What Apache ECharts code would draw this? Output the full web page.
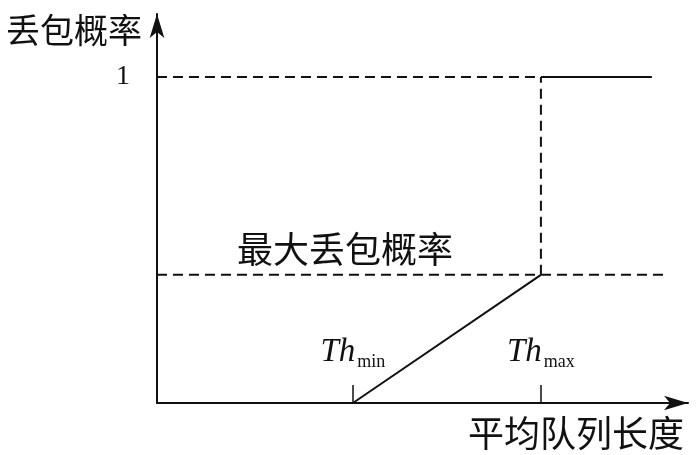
<!DOCTYPE html>
<html>
<head>
<meta charset="utf-8">
<script src="https://cdn.jsdelivr.net/npm/echarts@6/dist/echarts.min.js"></script>
<style>
html, body { margin: 0; padding: 0; background: #fff; }
#chart { width: 700px; height: 455px; }
</style>
</head>
<body>
<div id="chart"></div>
<script>
// 阈值与概率（读图估计，横轴 0-100）
var thMin = 36.9;
var thMax = 72.3;
var xEnd = 93.2;      // 概率为1的实线终点
var dashEnd = 95.7;   // 最大丢包概率虚线终点
var maxP = 0.393;     // 最大丢包概率
var pOne = 1;
var xMax = 100;
var yMax = 1.193;
var labelX = 35.4;    // “最大丢包概率”文字位置

var dropCurve = [[0, 0], [thMin, 0], [thMax, maxP]];
var fullDrop = [[thMax, pOne], [xEnd, pOne]];
var oneGuide = [[0, pOne], [thMax, pOne]];
var thMaxGuide = [[thMax, maxP], [thMax, pOne]];
var maxPGuide = [[0, maxP], [labelX, maxP], [dashEnd, maxP]];

var ink = '#111';
var cjk = '"Noto Sans CJK SC", sans-serif';
var serif = '"Liberation Serif", "DejaVu Serif", serif';
var dash = { color: ink, width: 2, type: [10, 6] };
var solid = { color: ink, width: 2 };

var myChart = echarts.init(document.getElementById('chart'));

var option = {
    animation: false,
    backgroundColor: '#fff',
    grid: { left: 157, right: 12, top: 14, bottom: 52 },
    xAxis: {
        type: 'value',
        min: 0,
        max: xMax,
        name: '平均队列长度',
        nameLocation: 'end',
        nameGap: -4,
        nameMoveOverlap: false,
        nameTextStyle: {
            fontFamily: cjk, fontSize: 36, color: ink,
            align: 'right', verticalAlign: 'top', padding: [12, 0, 0, 0]
        },
        axisLine: { lineStyle: { color: ink, width: 2 }, symbol: ['none', 'arrow'], symbolSize: [11, 24] },
        axisTick: { show: true, inside: true, length: 18, customValues: [thMin, thMax], lineStyle: { color: ink, width: 1.5 } },
        axisLabel: {
            inside: true,
            margin: 32,
            customValues: [thMin, thMax],
            formatter: function (v) {
                return v === thMin ? '{t|Th}{s|min}' : '{t|Th}{s|max}';
            },
            rich: {
                t: { fontFamily: serif, fontStyle: 'italic', fontSize: 33, color: ink, verticalAlign: 'bottom', padding: [0, 0, 2, 0] },
                s: { fontFamily: serif, fontSize: 18, color: ink, verticalAlign: 'bottom', padding: [0, 0, 0, 2] }
            }
        },
        splitLine: { show: false }
    },
    yAxis: {
        type: 'value',
        min: 0,
        max: yMax,
        name: '丢包概率',
        nameLocation: 'end',
        nameGap: -16,
        nameMoveOverlap: false,
        nameTextStyle: {
            fontFamily: cjk, fontSize: 34, color: ink,
            align: 'right', verticalAlign: 'middle', padding: [0, 15, 0, 0]
        },
        axisLine: { show: true, lineStyle: { color: ink, width: 2 }, symbol: ['none', 'arrow'], symbolSize: [11, 24] },
        axisTick: { show: false },
        axisLabel: {
            margin: 27,
            customValues: [pOne],
            fontFamily: serif, fontSize: 28, color: ink
        },
        splitLine: { show: false }
    },
    series: [
        { type: 'line', data: dropCurve, symbol: 'none', lineStyle: solid, z: 3 },
        { type: 'line', data: fullDrop, symbol: 'none', lineStyle: solid, z: 3 },
        { type: 'line', data: oneGuide, symbol: 'none', lineStyle: dash },
        { type: 'line', data: thMaxGuide, symbol: 'none', lineStyle: dash },
        {
            type: 'line',
            data: maxPGuide.map(function (p, i) {
                return i === 1
                    ? { value: p, label: { show: true, position: 'top', distance: 8, formatter: '最大丢包概率', fontFamily: cjk, fontSize: 36, color: ink } }
                    : p;
            }),
            symbol: 'circle',
            symbolSize: 0,
            showSymbol: true,
            itemStyle: { color: ink },
            lineStyle: dash
        }
    ]
};

myChart.setOption(option);
</script>
</body>
</html>
